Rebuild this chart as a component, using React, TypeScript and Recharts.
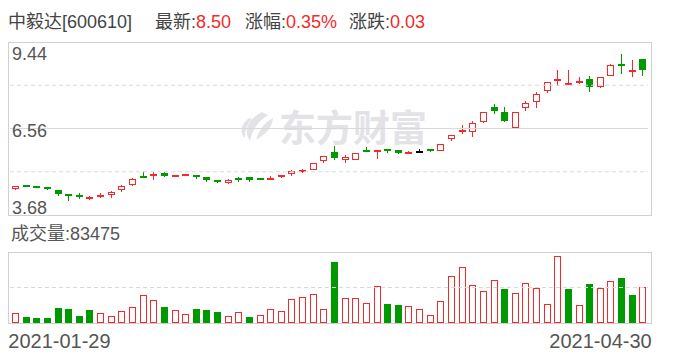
import React from "react";
import { Bar, ComposedChart, ReferenceLine, XAxis, YAxis } from "recharts";

const RED = "#f22a2a";
const GREEN = "#009a00";
const FLAT = "#000000";
const GRID = "#d9d9d9";
const FRAME = "#d0d0d0";
const TEXT = "#555";
const FONT = '"Liberation Sans", "Noto Sans CJK SC", sans-serif';

const dates = [
  "2021-01-29",
  "2021-02-01", "2021-02-02", "2021-02-03", "2021-02-04", "2021-02-05", "2021-02-08", "2021-02-09", "2021-02-10",
  "2021-02-18", "2021-02-19", "2021-02-22", "2021-02-23", "2021-02-24", "2021-02-25", "2021-02-26",
  "2021-03-01", "2021-03-02", "2021-03-03", "2021-03-04", "2021-03-05", "2021-03-08", "2021-03-09", "2021-03-10",
  "2021-03-11", "2021-03-12", "2021-03-15", "2021-03-16", "2021-03-17", "2021-03-18", "2021-03-19", "2021-03-22",
  "2021-03-23", "2021-03-24", "2021-03-25", "2021-03-26", "2021-03-29", "2021-03-30", "2021-03-31",
  "2021-04-01", "2021-04-02", "2021-04-06", "2021-04-07", "2021-04-08", "2021-04-09", "2021-04-12", "2021-04-13",
  "2021-04-14", "2021-04-15", "2021-04-16", "2021-04-19", "2021-04-20", "2021-04-21", "2021-04-22", "2021-04-23",
  "2021-04-26", "2021-04-27", "2021-04-28", "2021-04-29", "2021-04-30",
];

const opens = [
  4.53, 4.64, 4.61, 4.61, 4.51, 4.33, 4.32, 4.23, 4.29, 4.33,
  4.52, 4.68, 4.97, 4.99, 5.07, 4.96, 5.0, 5.0, 4.94, 4.84,
  4.75, 4.88, 4.94, 4.88, 4.86, 4.96, 5.03, 5.14, 5.19, 5.49,
  5.77, 5.52, 5.52, 5.8, 5.77, 5.83, 5.83, 5.75, 5.77, 5.83,
  5.82, 6.22, 6.44, 6.45, 6.78, 7.29, 7.12, 6.57, 7.25, 7.44,
  7.8, 8.13, 8.04, 8.09, 8.22, 7.93, 8.32, 8.68, 8.46, 8.88,
];
const highs = [
  4.64, 4.67, 4.62, 4.62, 4.52, 4.37, 4.4, 4.3, 4.4, 4.49,
  4.67, 4.9, 5.1, 5.1, 5.1, 5.02, 5.04, 5.01, 4.94, 4.85,
  4.87, 4.94, 4.94, 4.88, 4.98, 4.98, 5.17, 5.21, 5.41, 5.66,
  5.97, 5.67, 5.76, 5.93, 5.83, 5.88, 5.84, 5.82, 5.88, 5.86,
  6.06, 6.36, 6.69, 6.8, 7.12, 7.39, 7.29, 7.12, 7.49, 7.79,
  8.11, 8.51, 8.51, 8.28, 8.31, 8.29, 8.71, 9.04, 8.84, 8.88,
];
const lows = [
  4.52, 4.6, 4.57, 4.52, 4.3, 4.13, 4.21, 4.19, 4.23, 4.23,
  4.45, 4.65, 4.91, 4.86, 4.94, 4.95, 4.97, 4.88, 4.78, 4.73,
  4.72, 4.78, 4.78, 4.86, 4.86, 4.91, 4.98, 5.09, 5.18, 5.4,
  5.51, 5.4, 5.52, 5.78, 5.54, 5.76, 5.7, 5.71, 5.77, 5.79,
  5.82, 6.14, 6.37, 6.27, 6.74, 7.03, 6.79, 6.53, 7.13, 7.23,
  7.73, 7.96, 8.04, 8.03, 7.76, 7.92, 8.32, 8.39, 8.26, 8.32,
];
const closes = [
  4.63, 4.62, 4.59, 4.53, 4.37, 4.32, 4.3, 4.25, 4.35, 4.44,
  4.66, 4.89, 4.92, 5.01, 4.98, 5.01, 5.02, 4.93, 4.83, 4.77,
  4.86, 4.87, 4.86, 4.87, 4.92, 4.97, 5.14, 5.15, 5.4, 5.66,
  5.59, 5.6, 5.76, 5.79, 5.82, 5.81, 5.74, 5.76, 5.77, 5.82,
  6.05, 6.35, 6.49, 6.75, 7.11, 7.13, 6.8, 7.11, 7.42, 7.72,
  8.11, 8.18, 8.05, 8.15, 7.93, 8.28, 8.69, 8.67, 8.47, 8.5,
];
const volumes = [
  23000, 14600, 12300, 12300, 35300, 33000, 16900, 30700, 23000, 16100,
  28400, 36900, 64500, 53000, 36900, 30700, 20700, 33000, 29200, 26100,
  16100, 25300, 14600, 18400, 32300, 28400, 55300, 59900, 66800, 32300,
  142100, 57600, 57600, 46100, 85200, 44500, 42200, 39200, 32300, 18400,
  51500, 108300, 129000, 87600, 73700, 99100, 79100, 69100, 92200, 80600,
  43800, 155100, 79100, 41500, 90600, 80600, 96800, 104400, 65300, 83475,
];

const PRICE_TICKS = [3.68, 6.56, 9.44];
const PRICE_DASHED = [5.12, 8.0];
const VOL_MAX = 165000;
const DATE_TICKS = ["2021-01-29", "2021-04-30"];

const rows = dates.map((date, i) => ({
  date,
  open: opens[i],
  high: highs[i],
  low: lows[i],
  close: closes[i],
  range: [lows[i], highs[i]],
  volume: volumes[i],
  volUp: i === 0 ? closes[i] >= opens[i] : closes[i] >= closes[i - 1],
}));

const last = rows[rows.length - 1];
const prevClose = rows[rows.length - 2].close;

// plot spans x 10..648 on the page
const PRICE_MARGIN = { top: 0, right: 40, bottom: 10, left: 10 };
const VOL_MARGIN = { top: 0, right: 40, bottom: 0, left: 10 };

function Candle(props: any) {
  const { x, y, width, height, payload } = props;
  const { open, close, high, low } = payload;
  const top = Math.min(y, y + height);
  const h = Math.abs(height);
  const k = high > low ? h / (high - low) : 0;
  const py = (v: number) => top + (high - v) * k;
  const color = close > open ? RED : close < open ? GREEN : FLAT;
  const bx = Math.round(x + width / 2 - 3.5);
  const b0 = Math.round(py(Math.max(open, close)));
  const b1 = Math.round(py(Math.min(open, close)));
  const hollow = close > open && b1 - b0 >= 3;
  return (
    <g>
      <line x1={bx + 3.5} x2={bx + 3.5} y1={Math.round(top)} y2={Math.round(top + h)} stroke={color} />
      {hollow ? (
        <rect x={bx + 0.5} y={b0 + 0.5} width={6} height={b1 - b0 - 1} fill="#fff" stroke={color} />
      ) : (
        <rect x={bx} y={b1 - b0 < 2 ? b0 - 1 : b0} width={7} height={Math.max(b1 - b0, 2)} fill={color} />
      )}
    </g>
  );
}

function VolBar(props: any) {
  const { x, y, width, height, payload } = props;
  const bx = Math.round(x + width / 2 - 3.5);
  const t = Math.round(y);
  const b = Math.round(y + height);
  if (payload.volUp)
    return <rect x={bx + 0.5} y={t + 0.5} width={6} height={Math.max(b - t - 1, 0)} fill="#fff" stroke={RED} />;
  return <rect x={bx} y={t} width={7} height={b - t} fill={GREEN} />;
}

function PriceTick({ y, payload }: any) {
  const v = Number(payload.value);
  const isTop = Math.abs(v - PRICE_TICKS[PRICE_TICKS.length - 1]) < 1e-6;
  const isBottom = Math.abs(v - PRICE_TICKS[0]) < 1e-6;
  const dy = isTop ? 18 : isBottom ? -1 : 8;
  return (
    <text x={PRICE_MARGIN.left + 2} y={y + dy} fill={TEXT} fontSize={18} fontFamily={FONT}>
      {v.toFixed(2)}
    </text>
  );
}

function DateTick({ x, y, payload, index }: any) {
  const first = index === 0;
  return (
    <text x={first ? x - 7 : x + 9} y={y + 17} textAnchor={first ? "start" : "end"} fill={TEXT} fontSize={20} fontFamily={FONT}>
      {payload.value}
    </text>
  );
}

const frame = (left: number, top: number, w: number, h: number): React.CSSProperties => ({
  position: "absolute", left, top, width: w, height: h, border: `1px solid ${FRAME}`, boxSizing: "border-box", pointerEvents: "none",
});

export default function App() {
  const change = last.close - prevClose;
  const pct = (change / prevClose) * 100;
  return (
    <div style={{ position: "absolute", left: 0, top: 0, width: 688, height: 360, background: "#fff", fontFamily: FONT }}>
      <svg width={688} height={360} style={{ position: "absolute", left: 0, top: 0 }}>
        <g fill="#e3e3e7">
          <path d="M262 112 C248 119 243 131 250 141 C252 131 257 122 268 115 Z" />
          <path d="M249 118 C241 124 239 133 245 138 C245 131 247 124 252 119 Z" />
          <path d="M268 121 C262 126 258 133 256 140 C264 135 272 129 273 118 Z" />
          <text x={279} y={142} fontSize={37} fontWeight={700} fontFamily='"Noto Sans CJK SC", sans-serif'>东方财富</text>
        </g>
        <g fontSize={18} fontFamily={FONT}>
          <text x={8} y={28} fill="#444">中毅达[600610]</text>
          <text x={155} y={28} fill="#444">最新:<tspan fill={RED}>{last.close.toFixed(2)}</tspan></text>
          <text x={245} y={28} fill="#444">涨幅:<tspan fill={RED}>{pct.toFixed(2)}%</tspan></text>
          <text x={349} y={28} fill="#444">涨跌:<tspan fill={RED}>{change.toFixed(2)}</tspan></text>
          <text x={11} y={240} fill={TEXT}>成交量:{last.volume}</text>
        </g>
      </svg>

      <div style={{ position: "absolute", left: 0, top: 42 }}>
        <ComposedChart width={688} height={183} data={rows} margin={PRICE_MARGIN} barCategoryGap={0}>
          <XAxis dataKey="date" hide />
          <YAxis domain={[PRICE_TICKS[0], PRICE_TICKS[2]]} ticks={PRICE_TICKS} interval={0} mirror axisLine={false} tickLine={false} tick={<PriceTick />} allowDataOverflow />
          <ReferenceLine y={PRICE_TICKS[1]} stroke={GRID} />
          {PRICE_DASHED.map((v) => (
            <ReferenceLine key={v} y={v} stroke={GRID} strokeDasharray="4 3" />
          ))}
          <Bar dataKey="range" barSize={7} shape={<Candle />} isAnimationActive={false} />
        </ComposedChart>
      </div>

      <div style={{ position: "absolute", left: 0, top: 252 }}>
        <ComposedChart width={688} height={108} data={rows} margin={VOL_MARGIN} barCategoryGap={0}>
          <XAxis dataKey="date" ticks={DATE_TICKS} interval={0} axisLine={false} tickLine={false} height={37} tick={<DateTick />} />
          <YAxis domain={[0, VOL_MAX]} hide allowDataOverflow />
          <ReferenceLine y={VOL_MAX / 2} stroke={GRID} strokeDasharray="4 3" />
          <Bar dataKey="volume" barSize={7} shape={<VolBar />} isAnimationActive={false} />
        </ComposedChart>
      </div>

      <div style={frame(8, 42, 644, 174)} />
      <div style={frame(8, 252, 644, 72)} />
    </div>
  );
}
